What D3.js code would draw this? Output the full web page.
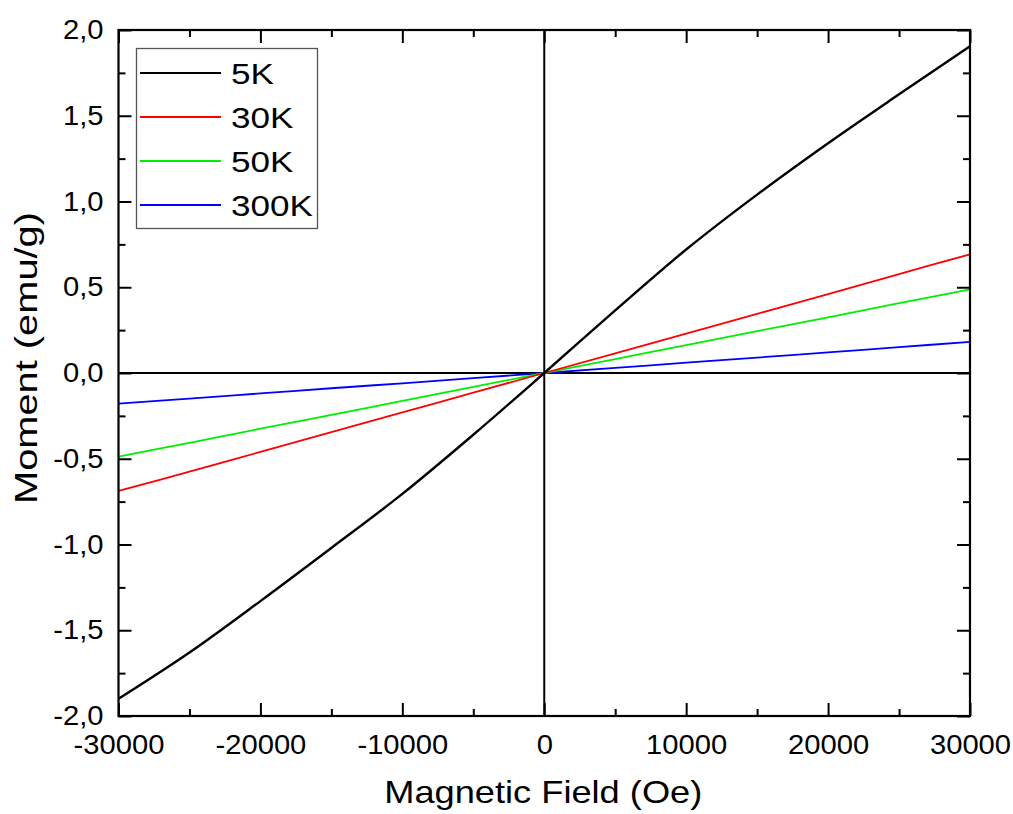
<!DOCTYPE html>
<html>
<head>
<meta charset="utf-8">
<script src="https://cdn.jsdelivr.net/npm/d3@7"></script>
<style>
  html, body { margin: 0; padding: 0; background: #fff; }
  svg { display: block; }
  text { font-family: "Liberation Sans", Arial, sans-serif; fill: #000; }
</style>
</head>
<body>
<svg id="chart" width="1013" height="814"></svg>
<script>
// ---- data ----
const fieldOe = [-30000, -25000, -20000, -15000, -10000, -5000, 0, 5000, 10000, 15000, 20000, 25000, 30000];
const moment5K   = [-1.900, -1.630, -1.330, -1.020, -0.705, -0.360, 0, 0.365, 0.720, 1.040, 1.340, 1.625, 1.905];
const moment30K  = [-0.688, -0.575, -0.460, -0.345, -0.230, -0.115, 0, 0.115, 0.230, 0.345, 0.460, 0.577, 0.692];
const moment50K  = [-0.488, -0.407, -0.325, -0.244, -0.163, -0.081, 0, 0.081, 0.163, 0.244, 0.325, 0.407, 0.488];
const moment300K = [-0.178, -0.149, -0.119, -0.089, -0.060, -0.030, 0, 0.030, 0.060, 0.090, 0.120, 0.151, 0.181];
const seriesNames = ["5K", "30K", "50K", "300K"];
const seriesColors = ["#000000", "#ff0000", "#00ee00", "#0000ff"];
const xMajorTicks = [-30000, -20000, -10000, 0, 10000, 20000, 30000];
const xMinorTicks = [-25000, -15000, -5000, 5000, 15000, 25000];
const yMajorTicks = [-2.0, -1.5, -1.0, -0.5, 0.0, 0.5, 1.0, 1.5, 2.0];
const yMinorTicks = [-1.75, -1.25, -0.75, -0.25, 0.25, 0.75, 1.25, 1.75];
const xTitle = "Magnetic Field (Oe)";
const yTitle = "Moment (emu/g)";

// ---- layout ----
const L = 118.5, R = 970, T = 30, B = 716;
const svg = d3.select("#chart");
const x = d3.scaleLinear().domain([-30000, 30000]).range([L, R]);
const y = d3.scaleLinear().domain([-2, 2]).range([B, T]);

const series = [moment5K, moment30K, moment50K, moment300K].map((vals, i) => ({
  name: seriesNames[i], color: seriesColors[i],
  points: fieldOe.map((f, j) => [f, vals[j]])
}));

// zero lines
svg.append("line").attr("x1", x(0)).attr("x2", x(0)).attr("y1", T).attr("y2", B)
  .attr("stroke", "#000").attr("stroke-width", 2);
svg.append("line").attr("x1", L).attr("x2", R).attr("y1", y(0)).attr("y2", y(0))
  .attr("stroke", "#000").attr("stroke-width", 2);

// data lines
const line = d3.line().x(d => x(d[0])).y(d => y(d[1])).curve(d3.curveCatmullRom.alpha(0.5));
series.slice().reverse().forEach(s => {
  svg.append("path").datum(s.points).attr("d", line)
    .attr("fill", "none").attr("stroke", s.color)
    .attr("stroke-width", s.name === "5K" ? 2.4 : 1.8);
});

// axes
const fmtX = d => String(d);
const fmtY = d => d.toFixed(1).replace(".", ",");

function styleAxis(g) {
  g.select(".domain").remove();
  g.selectAll(".tick line").attr("stroke", "#000").attr("stroke-width", 2);
  g.selectAll(".tick text").attr("font-size", 27).attr("font-family", "'Liberation Sans', Arial, sans-serif").attr("fill", "#000")
    .each(function() {
      const w = this.getComputedTextLength();
      d3.select(this).attr("textLength", w * 1.08).attr("lengthAdjust", "spacingAndGlyphs");
    });
}
// bottom
svg.append("g").attr("transform", `translate(0,${B})`)
  .call(d3.axisBottom(x).tickValues(xMajorTicks).tickSize(-13).tickPadding(19).tickFormat(fmtX)).call(styleAxis);
svg.append("g").attr("transform", `translate(0,${B})`)
  .call(d3.axisBottom(x).tickValues(xMinorTicks).tickSize(-7).tickFormat("")).call(styleAxis);
// top
svg.append("g").attr("transform", `translate(0,${T})`)
  .call(d3.axisTop(x).tickValues(xMajorTicks).tickSize(-13).tickFormat("")).call(styleAxis);
svg.append("g").attr("transform", `translate(0,${T})`)
  .call(d3.axisTop(x).tickValues(xMinorTicks).tickSize(-7).tickFormat("")).call(styleAxis);
// left
svg.append("g").attr("transform", `translate(${L},0)`)
  .call(d3.axisLeft(y).tickValues(yMajorTicks).tickSize(-13).tickPadding(15).tickFormat(fmtY)).call(styleAxis);
svg.append("g").attr("transform", `translate(${L},0)`)
  .call(d3.axisLeft(y).tickValues(yMinorTicks).tickSize(-7).tickFormat("")).call(styleAxis);
// right
svg.append("g").attr("transform", `translate(${R},0)`)
  .call(d3.axisRight(y).tickValues(yMajorTicks).tickSize(-13).tickFormat("")).call(styleAxis);
svg.append("g").attr("transform", `translate(${R},0)`)
  .call(d3.axisRight(y).tickValues(yMinorTicks).tickSize(-7).tickFormat("")).call(styleAxis);

// frame
svg.append("rect").attr("x", L).attr("y", T).attr("width", R - L).attr("height", B - T)
  .attr("fill", "none").attr("stroke", "#000").attr("stroke-width", 2.2);

// axis titles
svg.append("text").attr("x", (L + R) / 2 - 1).attr("y", 803)
  .attr("text-anchor", "middle").attr("font-size", 32)
  .attr("textLength", 318).attr("lengthAdjust", "spacingAndGlyphs").text(xTitle);
svg.append("text").attr("transform", `translate(37,358) rotate(-90)`)
  .attr("text-anchor", "middle").attr("font-size", 32)
  .attr("textLength", 292).attr("lengthAdjust", "spacingAndGlyphs").text(yTitle);

// legend
const legend = svg.append("g");
legend.append("rect").attr("x", 136.5).attr("y", 48.5).attr("width", 181).attr("height", 180)
  .attr("fill", "#fff").attr("stroke", "#555").attr("stroke-width", 1.3);
const rowY = [73, 117, 161, 205];
series.forEach((s, i) => {
  legend.append("line").attr("x1", 140).attr("x2", 221).attr("y1", rowY[i]).attr("y2", rowY[i])
    .attr("stroke", s.color).attr("stroke-width", 2);
  const t = legend.append("text").attr("x", 0).attr("y", 0).attr("font-size", 30).text(s.name);
  t.attr("transform", `translate(231,${rowY[i] + 11}) scale(1.17,1)`);
});
</script>
</body>
</html>
